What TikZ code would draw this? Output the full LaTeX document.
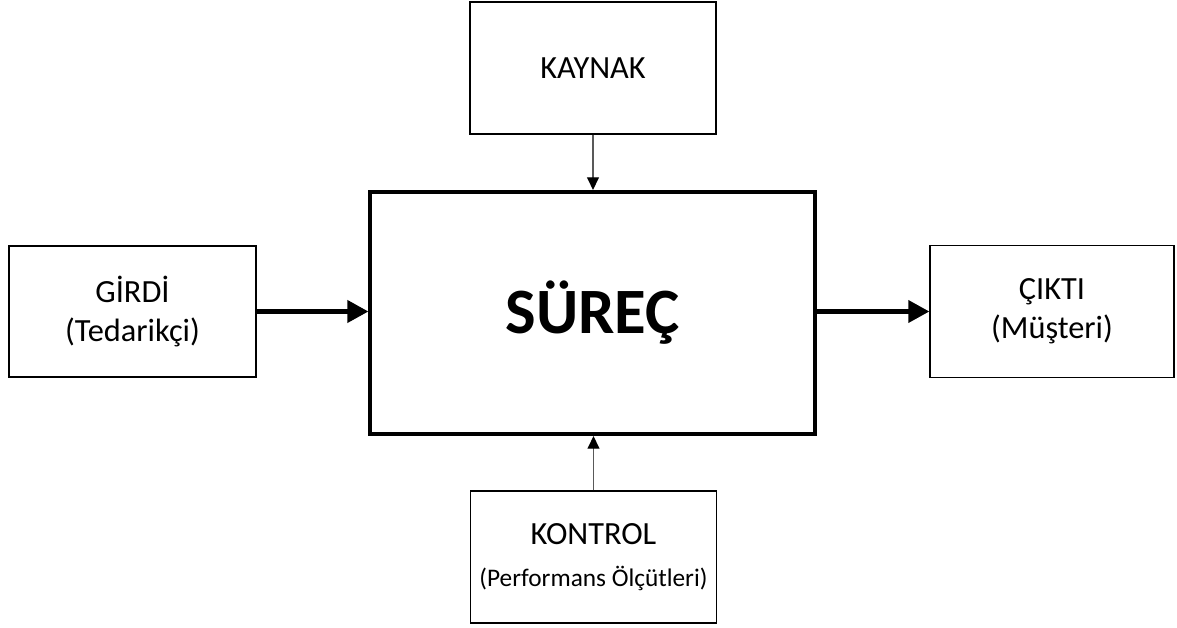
\documentclass[tikz,border=0pt]{standalone}
\usepackage{fontspec}
\setmainfont{Carlito}
\usetikzlibrary{arrows.meta}

\begin{document}
\begin{tikzpicture}[
            x=0.025cm, y=-0.025cm,
            box/.style={draw, line width=0.9pt, align=center, inner sep=0pt,
                        minimum width=6.15cm, minimum height=3.3cm,
                        font=\fontsize{23}{28}\selectfont},
            mainbox/.style={draw, line width=2.9pt, inner sep=0pt,
                        minimum width=11.1cm, minimum height=6.05cm,
                        font=\fontsize{46}{52}\selectfont\bfseries},
            feed/.style={draw=black!65, line width=0.9pt,
                        -{Triangle[length=9pt, width=8.5pt, color=black]}},
            flow/.style={line width=3.1pt, -{Triangle[length=15pt, width=15.6pt]}}
            ]
            \useasboundingbox (0,0) rectangle (1177,628);

            \node[mainbox] (surec) at (592.5,313) {SÜREÇ};

            \node[box] (kaynak) at (593,68) {KAYNAK};
            \node[box] (kontrol) at (593.5,557)
                {KONTROL\\[2pt]{\fontsize{18}{20}\selectfont (Performans Ölçütleri)}};
            \node[box, minimum width=6.175cm, minimum height=3.275cm] (girdi) at (132.5,311.5)
                {GİRDİ\\(Tedarikçi)};
            \node[box, minimum width=6.1cm] (cikti) at (1052,311.5)
                {ÇIKTI\\(Müşteri)};

            \draw[feed] (kaynak.south) -- (kaynak.south |- surec.north);
            \draw[feed] (kontrol.north) -- (kontrol.north |- surec.south);
            \draw[flow] (girdi.east) -- (girdi.east -| surec.west);
            \draw[flow] (surec.east |- cikti.west) -- (cikti.west);

            \end{tikzpicture}
\end{document}
